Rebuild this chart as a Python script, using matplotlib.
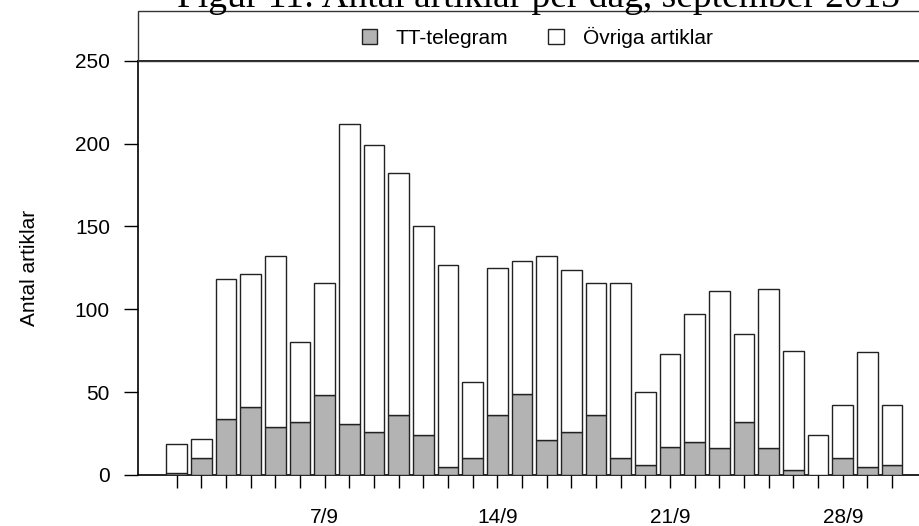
import matplotlib
matplotlib.use('Agg')
import matplotlib.pyplot as plt
import matplotlib.patches as mpatches
import numpy as np

# ── Data ──────────────────────────────────────────────────────────────────────
days = np.arange(1, 31)
tt_telegram = [1, 10, 34, 41, 29, 32, 48, 31, 26, 36, 24, 5, 10, 36, 49,
               21, 26, 36, 10, 6, 17, 20, 16, 32, 16, 3, 0, 10, 5, 6]
ovriga = [18, 12, 84, 80, 103, 48, 68, 181, 173, 146, 126, 122, 46, 89, 80,
          111, 98, 80, 106, 44, 56, 77, 95, 53, 96, 72, 24, 32, 69, 36]
label_days = [7, 14, 21, 28]
label_texts = ['7/9', '14/9', '21/9', '28/9']
yticks = [0, 50, 100, 150, 200, 250]

plt.rcParams['font.family'] = ['Liberation Sans', 'DejaVu Sans']

W, H = 920, 526
fig = plt.figure(figsize=(W / 100, H / 100), dpi=100)

# axes: left spine at x=137.7px, 0 at y=475px, 250 at y=60.7px, right edge off-image
left_px, right_px, y0_px, ytop_px = 137.7, 940, 475, 60.7
ax = fig.add_axes([left_px / W, (H - y0_px) / H,
                   (right_px - left_px) / W, (y0_px - ytop_px) / H])

GREY = '#b3b3b3'
EDGE = '#222222'
bw = 0.835
ax.bar(days, tt_telegram, width=bw, color=GREY, edgecolor=EDGE, linewidth=1.0, zorder=3)
ax.bar(days, ovriga, bottom=tt_telegram, width=bw, color='white',
       edgecolor=EDGE, linewidth=1.0, zorder=3)

ax.set_xlim(-0.581, 31.94)
ax.set_ylim(0, 250)

ax.set_yticks(yticks)
ax.tick_params(axis='y', direction='out', length=10, width=1.0, pad=10,
               labelsize=15, color='black')

ax.set_xticks(days, minor=True)
ax.set_xticks(label_days)
ax.set_xticklabels(label_texts)
ax.tick_params(axis='x', which='both', direction='out', length=9.5, width=1.0,
               color='black')
ax.tick_params(axis='x', which='major', labelsize=15, pad=14)

for s in ['left', 'bottom', 'top']:
    ax.spines[s].set_linewidth(1.2)
    ax.spines[s].set_color('black')
ax.spines['right'].set_visible(False)

# ── Legend box above plot ────────────────────────────────────────────────────
box = mpatches.Rectangle((left_px / W, (H - ytop_px) / H), (right_px - left_px) / W,
                         (ytop_px - 11) / H, transform=fig.transFigure,
                         facecolor='none', edgecolor='#333333', linewidth=1.0)
fig.patches.append(box)

handles = [mpatches.Patch(facecolor=GREY, edgecolor=EDGE, linewidth=1.0, label='TT-telegram'),
           mpatches.Patch(facecolor='white', edgecolor=EDGE, linewidth=1.0, label='Övriga artiklar')]
fig.legend(handles=handles, loc='center', bbox_to_anchor=(537 / W, (H - 37) / H),
           ncol=2, frameon=False, fontsize=15, handlelength=0.75, handleheight=0.75,
           handletextpad=0.9, columnspacing=1.9)

# ── Title and y label ────────────────────────────────────────────────────────
fig.text(539 / W, (H - 7) / H, 'Figur 11: Antal artiklar per dag, september 2013',
         ha='center', va='baseline', fontsize=27, family='Liberation Serif')
fig.text(30 / W, (H - 268) / H, 'Antal artiklar', rotation=90,
         ha='center', va='center', fontsize=15)

fig.savefig('out.png', dpi=100)
